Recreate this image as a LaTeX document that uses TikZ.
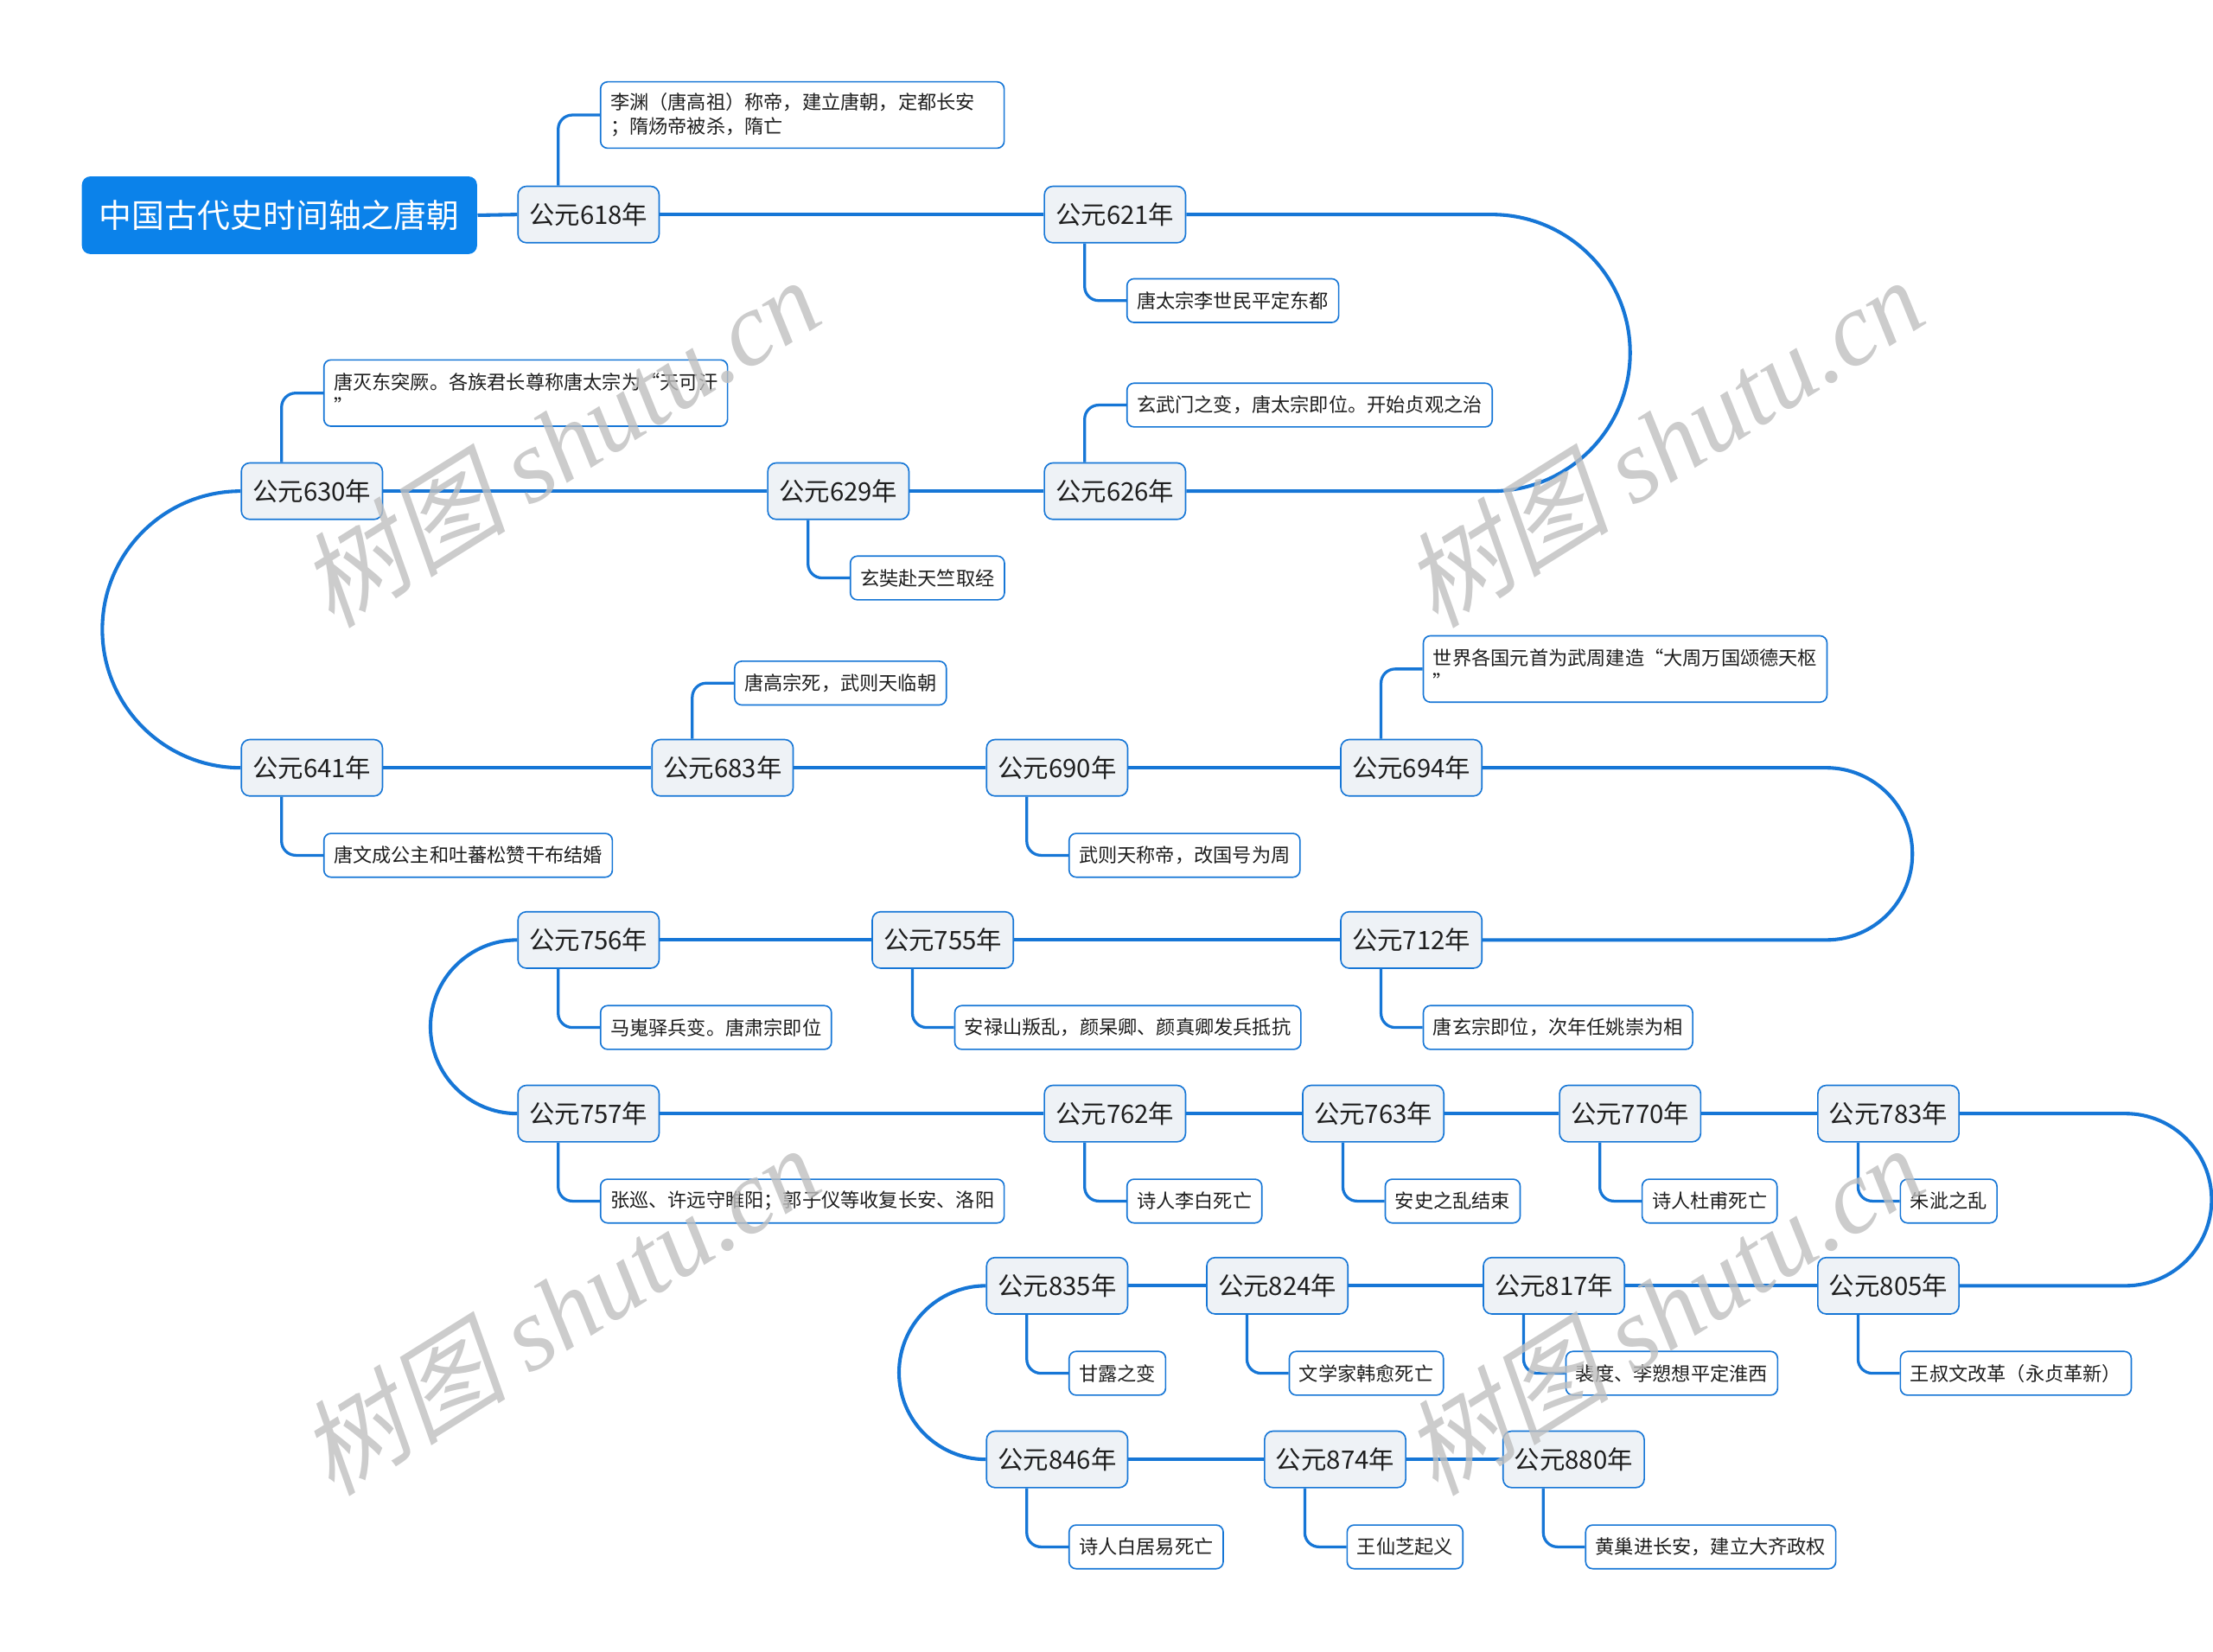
\documentclass[tikz,border=0pt]{standalone}
\usepackage{fontspec}
\setmainfont{Noto Sans CJK SC}
\newfontfamily\wmcjk[FakeSlant=0.22]{Noto Sans CJK SC}
\newfontfamily\wmlat{Liberation Serif}
\usetikzlibrary{calc}
\definecolor{lineblue}{RGB}{22,118,214}
\definecolor{rootblue}{RGB}{11,130,234}
\definecolor{yearfill}{RGB}{238,242,246}
\definecolor{txt}{RGB}{30,30,30}
\begin{document}
\begin{tikzpicture}[x=0.5pt,y=-0.5pt,
  root/.style={fill=rootblue, rounded corners=3pt, minimum width=140pt, minimum height=27.5pt, inner sep=0pt, text=white, font=\fontsize{11.6}{14}\selectfont},
  year/.style={draw=lineblue, line width=0.5pt, fill=yearfill, rounded corners=3pt, minimum width=50pt, minimum height=20pt, inner sep=0pt, text=txt, font=\fontsize{9}{11}\selectfont},
  leaf/.style={draw=lineblue, line width=0.5pt, fill=white, rounded corners=2.5pt, minimum height=15.5pt, inner xsep=3.5pt, inner ysep=0pt, anchor=west, text=txt, font=\fontsize{6.8}{8.5}\selectfont},
  wide/.style={leaf, text width=136pt, align=left, minimum height=23.5pt},
  main/.style={draw=lineblue, line width=1.25pt},
  sub/.style={draw=lineblue, line width=1pt, rounded corners=5pt},
  wm/.style={rotate=32, text=black!25, opacity=0.8, font=\fontsize{37}{37}\selectfont}
]
\useasboundingbox (0,0) rectangle (1568,1170);

% root
\node[root] (root) at (198,152.5) {中国古代史时间轴之唐朝};

% year nodes
\node[year] (y618) at (417,152) {公元618年};
\node[year] (y621) at (790,152) {公元621年};
\node[year] (y626) at (790,348) {公元626年};
\node[year] (y629) at (594,348) {公元629年};
\node[year] (y630) at (221,348) {公元630年};
\node[year] (y641) at (221,544) {公元641年};
\node[year] (y683) at (512,544) {公元683年};
\node[year] (y690) at (749,544) {公元690年};
\node[year] (y694) at (1000,544) {公元694年};
\node[year] (y712) at (1000,666) {公元712年};
\node[year] (y755) at (668,666) {公元755年};
\node[year] (y756) at (417,666) {公元756年};
\node[year] (y757) at (417,789) {公元757年};
\node[year] (y762) at (790,789) {公元762年};
\node[year] (y763) at (973,789) {公元763年};
\node[year] (y770) at (1155,789) {公元770年};
\node[year] (y783) at (1338,789) {公元783年};
\node[year] (y805) at (1338,911) {公元805年};
\node[year] (y817) at (1101,911) {公元817年};
\node[year] (y824) at (905,911) {公元824年};
\node[year] (y835) at (749,911) {公元835年};
\node[year] (y846) at (749,1034) {公元846年};
\node[year] (y874) at (946,1034) {公元874年};
\node[year] (y880) at (1115,1034) {公元880年};

% child nodes
\node[wide] (c618) at (425,81.5) {李渊（唐高祖）称帝，建立唐朝，定都长安\\；隋炀帝被杀，隋亡};
\node[leaf] (c621) at (798,213) {唐太宗李世民平定东都};
\node[leaf] (c626) at (798,287) {玄武门之变，唐太宗即位。开始贞观之治};
\node[leaf] (c629) at (602,409.5) {玄奘赴天竺取经};
\node[wide] (c630) at (229,278.5) {唐灭东突厥。各族君长尊称唐太宗为“天可汗\\”};
\node[leaf] (c641) at (229,606) {唐文成公主和吐蕃松赞干布结婚};
\node[leaf] (c683) at (520,484) {唐高宗死，武则天临朝};
\node[leaf] (c690) at (757,606) {武则天称帝，改国号为周};
\node[wide] (c694) at (1008,474) {世界各国元首为武周建造“大周万国颂德天枢\\”};
\node[leaf] (c712) at (1008,728) {唐玄宗即位，次年任姚崇为相};
\node[leaf] (c755) at (676,728) {安禄山叛乱，颜杲卿、颜真卿发兵抵抗};
\node[leaf] (c756) at (425,728) {马嵬驿兵变。唐肃宗即位};
\node[leaf] (c757) at (425,851) {张巡、许远守睢阳；郭子仪等收复长安、洛阳};
\node[leaf] (c762) at (798,851) {诗人李白死亡};
\node[leaf] (c763) at (981,851) {安史之乱结束};
\node[leaf] (c770) at (1163,851) {诗人杜甫死亡};
\node[leaf] (c783) at (1346,851) {朱泚之乱};
\node[leaf] (c805) at (1346,973) {王叔文改革（永贞革新）};
\node[leaf] (c817) at (1109,973) {裴度、李愬想平定淮西};
\node[leaf] (c824) at (913,973) {文学家韩愈死亡};
\node[leaf] (c835) at (757,973) {甘露之变};
\node[leaf] (c846) at (757,1096) {诗人白居易死亡};
\node[leaf] (c874) at (954,1096) {王仙芝起义};
\node[leaf] (c880) at (1123,1096) {黄巢进长安，建立大齐政权};

% main timeline
\draw[main] (root.east) -- (y618.west);
\draw[main] (y618.east) -- (y621.west);
\draw[main] (y621.east) -- (1057,152) arc[start angle=-90,end angle=90,radius=98] -- (y626.east);
\draw[main] (y626.west) -- (y629.east);
\draw[main] (y629.west) -- (y630.east);
\draw[main] (y630.west) arc[start angle=270,end angle=90,radius=98] -- (y641.west);
\draw[main] (y641.east) -- (y683.west);
\draw[main] (y683.east) -- (y690.west);
\draw[main] (y690.east) -- (y694.west);
\draw[main] (y694.east) -- (1294,544) arc[start angle=-90,end angle=90,radius=61] -- (y712.east);
\draw[main] (y712.west) -- (y755.east);
\draw[main] (y755.west) -- (y756.east);
\draw[main] (y756.west) arc[start angle=270,end angle=90,radius=61.5] -- (y757.west);
\draw[main] (y757.east) -- (y762.west);
\draw[main] (y762.east) -- (y763.west);
\draw[main] (y763.east) -- (y770.west);
\draw[main] (y770.east) -- (y783.west);
\draw[main] (y783.east) -- (1506,789) arc[start angle=-90,end angle=90,radius=61] -- (y805.east);
\draw[main] (y805.west) -- (y817.east);
\draw[main] (y817.west) -- (y824.east);
\draw[main] (y824.west) -- (y835.east);
\draw[main] (y835.west) arc[start angle=270,end angle=90,radius=61.5] -- (y846.west);
\draw[main] (y846.east) -- (y874.west);
\draw[main] (y874.east) -- (y880.west);

% child connectors (above)
\foreach \y in {618,626,630,683,694}{
  \draw[sub] ($(y\y.north west)+(29,0)$) |- (c\y.west);
}
% child connectors (below)
\foreach \y in {621,629,641,690,712,755,756,757,762,763,770,783,805,817,824,835,846,874,880}{
  \draw[sub] ($(y\y.south west)+(29,0)$) |- (c\y.west);
}

% watermarks
\node[wm] (wm1) at (396,313) {{\wmcjk 树图} {\wmlat\itshape shutu.cn}};
\node[wm] (wm2) at (1178,313) {{\wmcjk 树图} {\wmlat\itshape shutu.cn}};
\node[wm] (wm3) at (396,928) {{\wmcjk 树图} {\wmlat\itshape shutu.cn}};
\node[wm] (wm4) at (1178,928) {{\wmcjk 树图} {\wmlat\itshape shutu.cn}};
\end{tikzpicture}
\end{document}
